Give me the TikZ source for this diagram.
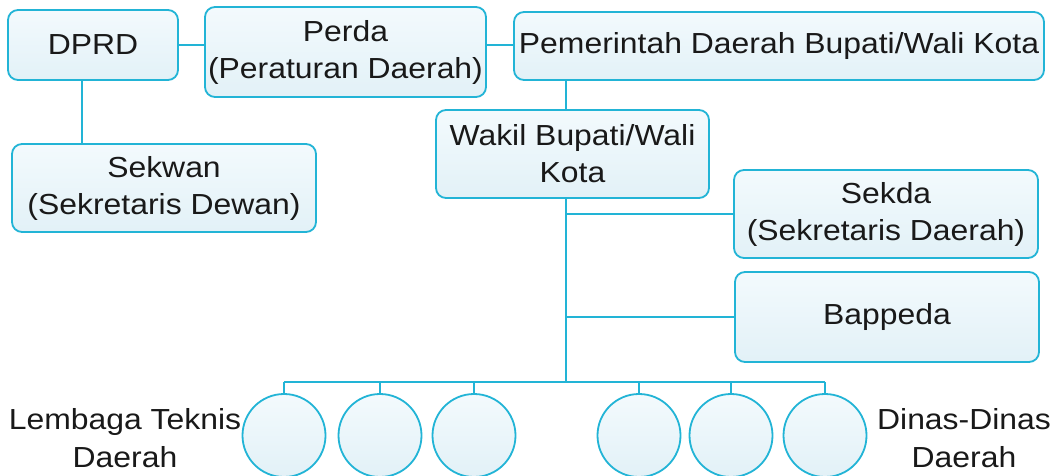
\documentclass[tikz,border=0pt]{standalone}
\usepackage{fontspec}
\setmainfont[FakeStretch=1.1]{Liberation Sans}
\definecolor{lineC}{HTML}{22B4D6}
\definecolor{fillTop}{HTML}{F3FAFD}
\definecolor{fillBot}{HTML}{E2F1F7}
\begin{document}
\begin{tikzpicture}[x=1pt,y=-1pt,
  box/.style={draw=lineC, line width=1.8pt, rounded corners=10pt, top color=fillTop, bottom color=fillBot, align=center, inner sep=0pt, font=\fontsize{29}{37}\selectfont, text=black!90},
  circ/.style={draw=lineC, line width=1.8pt, circle, minimum size=83pt, inner sep=0pt, top color=fillTop, bottom color=fillBot},
  lbl/.style={align=center, inner sep=0pt, font=\fontsize{29}{38}\selectfont, text=black!90},
  conn/.style={draw=lineC, line width=1.8pt}]
\fill[white] (0,0) rectangle (1059,476);
\useasboundingbox (0,0) rectangle (1059,476);
\node[box, minimum width=170pt, minimum height=70pt] (DPRD) at (93,45) {DPRD};
\node[box, minimum width=281pt, minimum height=90pt] (Perda) at (345.5,52) {Perda\\(Peraturan Daerah)};
\node[box, minimum width=530pt, minimum height=68pt] (Pem) at (779,46) {Pemerintah Daerah Bupati/Wali Kota};
\node[box, minimum width=304pt, minimum height=88pt] (Sekwan) at (164,188) {Sekwan\\(Sekretaris Dewan)};
\node[box, minimum width=273pt, minimum height=88pt] (Wakil) at (572.5,154) {Wakil Bupati/Wali\\Kota};
\node[box, minimum width=304pt, minimum height=88pt] (Sekda) at (886,214) {Sekda\\(Sekretaris Daerah)};
\node[box, minimum width=304pt, minimum height=90pt] (Bappeda) at (887,317) {Bappeda};
\node[circ] (c1) at (284,435.5) {};
\node[circ] (c2) at (380,435.5) {};
\node[circ] (c3) at (474,435.5) {};
\node[circ] (c4) at (639,435.5) {};
\node[circ] (c5) at (731,435.5) {};
\node[circ] (c6) at (825,435.5) {};
\node[lbl] (L1) at (125,438) {Lembaga Teknis\\Daerah};
\node[lbl] (L2) at (964,438) {Dinas-Dinas\\Daerah};
\coordinate (tx) at (566,0);
\coordinate (bus) at (566,382);
\draw[conn] (DPRD.east) -- (DPRD.east -| Perda.west);
\draw[conn] (Perda.east |- DPRD.east) -- (DPRD.east -| Pem.west);
\draw[conn] ([xshift=-11pt]DPRD.south) -- ([xshift=-11pt]DPRD.south |- Sekwan.north);
\draw[conn] (tx |- Pem.south) -- (tx |- Wakil.north);
\draw[conn] (tx |- Wakil.south) -- (bus);
\draw[conn] (tx |- Sekda.west) -- (Sekda.west);
\draw[conn] (tx |- Bappeda.west) -- (Bappeda.west);
\draw[conn] (c1.north |- bus) -- (c6.north |- bus);
\foreach \c in {c1,c2,c3,c4,c5,c6} { \draw[conn] (\c.north) -- (\c.north |- bus); }
\end{tikzpicture}
\end{document}
